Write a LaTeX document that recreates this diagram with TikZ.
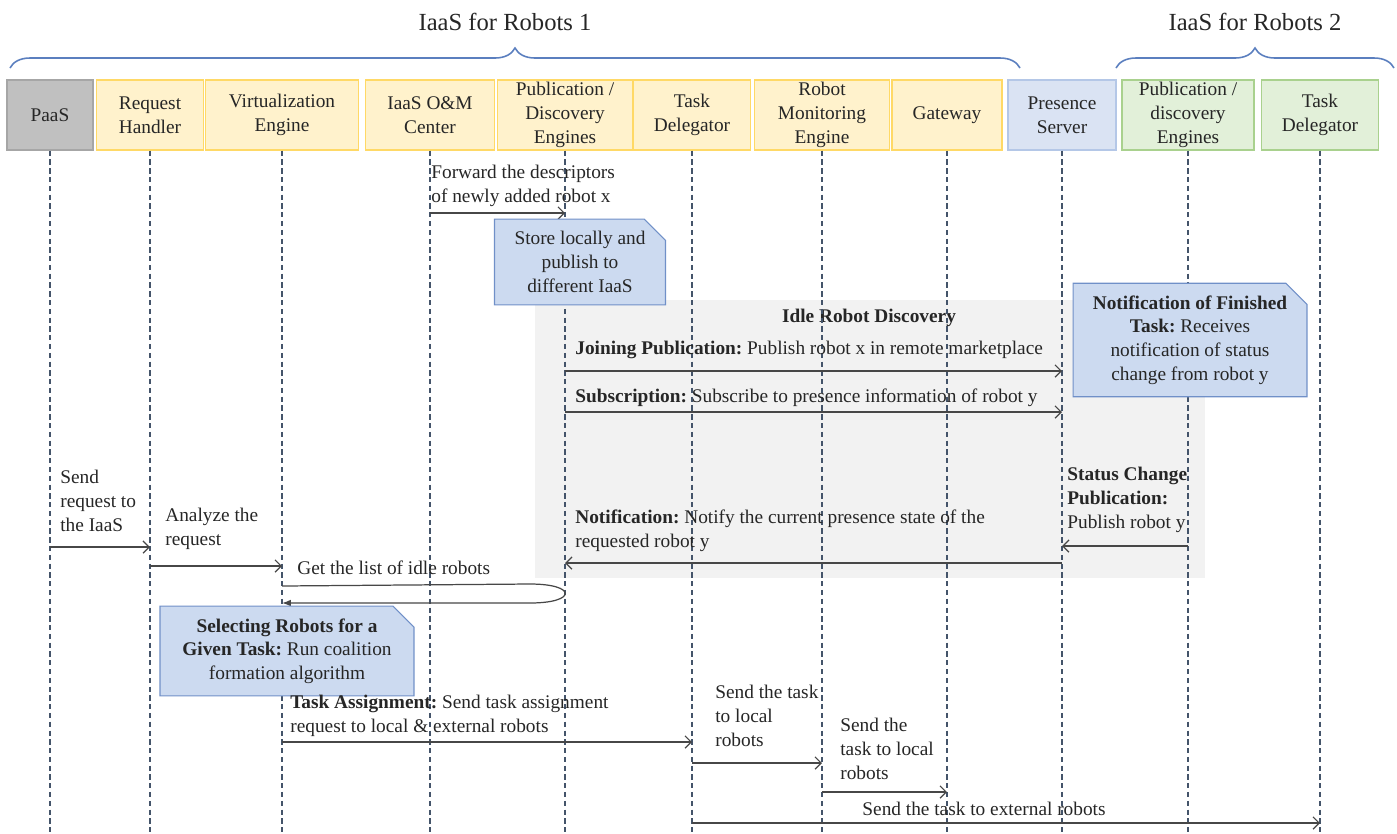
\documentclass[tikz,border=0pt]{standalone}
\usepackage{fontspec}
\setmainfont{Liberation Serif}
\usetikzlibrary{arrows.meta,positioning,shapes.misc,decorations.pathreplacing}
\definecolor{lifegray}{HTML}{44546A}
\definecolor{bracket}{HTML}{5B7FBF}
\definecolor{paasfill}{HTML}{C0C0C0}
\definecolor{paasline}{HTML}{A6A6A6}
\definecolor{iaasfill}{HTML}{FFF2CC}
\definecolor{iaasline}{HTML}{FFD966}
\definecolor{presfill}{HTML}{DAE3F3}
\definecolor{presline}{HTML}{B4C7E7}
\definecolor{extfill}{HTML}{E2F0D9}
\definecolor{extline}{HTML}{A9D18E}
\definecolor{notefill}{HTML}{CCDAF0}
\definecolor{noteline}{HTML}{7090C8}
\definecolor{ink}{HTML}{262626}
\frenchspacing

\begin{document}
\begin{tikzpicture}[x=0.02cm, y=-0.02cm,
    every node/.style={font=\fontsize{11}{13.5}\selectfont, text=ink},
    component/.style={rectangle, draw=iaasline, fill=iaasfill, line width=0.8pt,
        minimum height=1.4cm, inner sep=1pt, align=center},
    lifeline/.style={draw=lifegray, line width=0.6pt, dash pattern=on 3pt off 2pt},
    msg/.style={draw=ink!85, line width=0.7pt, -{Straight Barb[length=3.5pt,width=7pt]}},
    lbl/.style={inner sep=0pt, align=left},
    note/.style={chamfered rectangle, chamfered rectangle corners=north east,
        chamfered rectangle xsep=6pt, chamfered rectangle ysep=6pt,
        draw=noteline, fill=notefill, line width=0.6pt, align=center, inner sep=1pt},
    region/.style={rectangle, fill=gray!10, inner sep=0pt},
    grouping/.style={draw=bracket, line width=0.9pt,
        decorate, decoration={brace, amplitude=0.4cm}},
]
\useasboundingbox (0,0) rectangle (1397,833);

% Titles and braces
\node[font=\fontsize{14}{16}\selectfont] (title1) at (505,22) {IaaS for Robots 1};
\node[font=\fontsize{14}{16}\selectfont] (title2) at (1255,22) {IaaS for Robots 2};
\draw[grouping] (10,68) -- (1020,68);
\draw[grouping] (1116,68) -- (1394,68);

% Components
\node[component, draw=paasline, fill=paasfill, minimum width=1.72cm] (paas) at (50,115) {PaaS};
\node[component, minimum width=2.14cm] (rh) at (150,115) {Request\\Handler};
\node[component, minimum width=3.06cm] (ve) at (282,115) {Virtualization\\Engine};
\node[component, minimum width=2.58cm] (om) at (430,115) {IaaS O\&M\\Center};
\node[component, minimum width=2.7cm] (pd) at (565,115) {Publication /\\Discovery\\Engines};
\node[component, minimum width=2.34cm] (td) at (692,115) {Task\\Delegator};
\node[component, minimum width=2.7cm] (rm) at (822,115) {Robot\\Monitoring\\Engine};
\node[component, minimum width=2.2cm] (gw) at (947,115) {Gateway};
\node[component, draw=presline, fill=presfill, minimum width=2.16cm] (ps) at (1062,115) {Presence\\Server};
\node[component, draw=extline, fill=extfill, minimum width=2.64cm] (pdb) at (1188,115) {Publication /\\discovery\\Engines};
\node[component, draw=extline, fill=extfill, minimum width=2.34cm] (tdb) at (1320,115) {Task\\Delegator};

% Idle robot discovery area
\node[region, minimum width=13.4cm, minimum height=5.56cm] (idle) at (870,439) {};
\node[font=\fontsize{11}{13.5}\selectfont\bfseries] (idletitle) at (869,318) {Idle Robot Discovery};

% Lifelines
\coordinate (bottom) at (0,833);
\foreach \c in {paas,rh,ve,om,pd,td,rm,gw,ps,pdb,tdb}
    \draw[lifeline] (\c.south) -- (\c.south |- bottom);

% Publishing a new robot
\node[lbl, anchor=north west] (fwd) at (431,165) {Forward the descriptors\\of newly added robot x};
\draw[msg] (om |- 0,213) -- (pd |- 0,213);
\node[note, minimum width=3.42cm, minimum height=1.5cm] (store) at (580,262)
    {Store locally and\\publish to\\different IaaS};

% Discovery messages
\node[lbl, anchor=west] (join) at (575,350)
    {\textbf{Joining Publication:} Publish robot x in remote marketplace};
\draw[msg] (pd |- 0,371) -- (ps |- 0,371);
\node[lbl, anchor=west] (subs) at (575,398)
    {\textbf{Subscription:} Subscribe to presence information of robot y};
\draw[msg] (pd |- 0,412) -- (ps |- 0,412);
\node[note, minimum width=4.68cm, minimum height=2.18cm] (finished) at (1190,340)
    {\textbf{Notification of Finished}\\\textbf{Task:} Receives\\notification of status\\change from robot y};
\node[lbl, anchor=north west] (status) at (1067,467)
    {\textbf{Status Change}\\\textbf{Publication:}\\Publish robot y};
\draw[msg] (pdb |- 0,546) -- (ps |- 0,546);
\node[lbl, anchor=north west] (notif) at (575,510)
    {\textbf{Notification:} Notify the current presence state of the\\requested robot y};
\draw[msg] (ps |- 0,563) -- (pd |- 0,563);

% Request handling
\node[lbl, anchor=north west] (send) at (60,470) {Send\\request to\\the IaaS};
\draw[msg] (paas |- 0,547) -- (rh |- 0,547);
\node[lbl, anchor=north west] (analyze) at (165,508) {Analyze the\\request};
\draw[msg] (rh |- 0,566) -- (ve |- 0,566);
\node[lbl, anchor=west] (getlist) at (297,568) {Get the list of idle robots};
\coordinate (loopa) at (530,584);
\coordinate (loopb) at (530,603);
\draw[draw=ink!85, line width=0.7pt, -{Latex[length=5pt]}] (ve |- 0,586) -- (loopa)
    .. controls (577,584) and (577,603) .. (loopb) -- (ve |- 0,603);
\node[note, minimum width=5.08cm, minimum height=1.48cm] (select) at (287,651)
    {\textbf{Selecting Robots for a}\\\textbf{Given Task:} Run coalition\\formation algorithm};

% Task assignment
\node[lbl, anchor=north west] (assign) at (290,695)
    {\textbf{Task Assignment:} Send task assignment\\request to local \& external robots};
\draw[msg] (ve |- 0,742) -- (td |- 0,742);
\node[lbl, anchor=north west] (local1) at (715,685) {Send the task\\to local\\robots};
\draw[msg] (td |- 0,763) -- (rm |- 0,763);
\node[lbl, anchor=north west] (local2) at (840,718) {Send the\\task to local\\robots};
\draw[msg] (rm |- 0,792) -- (gw |- 0,792);
\node[lbl] (external) at (984,809) {Send the task to external robots};
\draw[msg] (td |- 0,823) -- (tdb |- 0,823);

\end{tikzpicture}
\end{document}
